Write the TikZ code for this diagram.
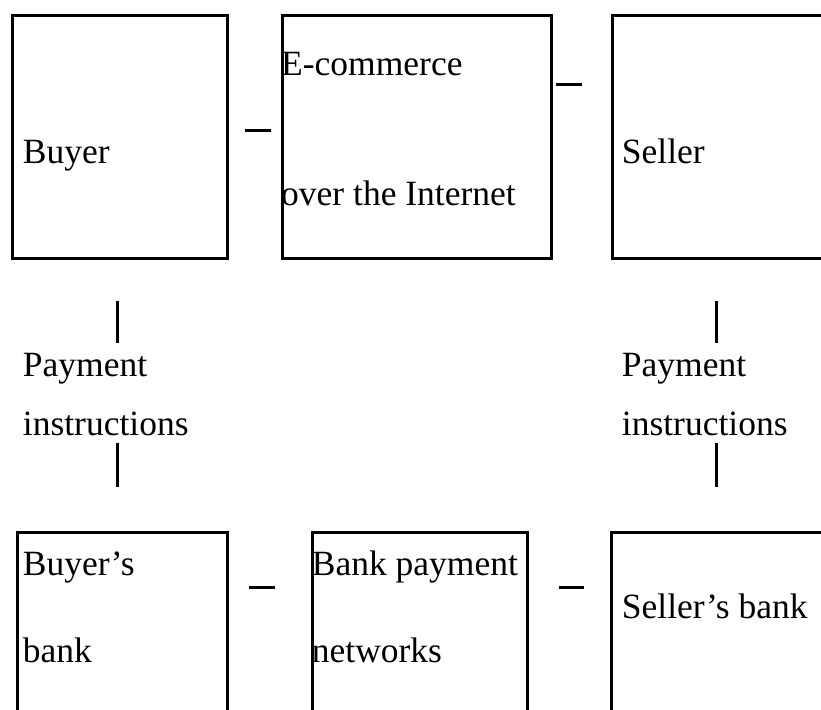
\documentclass[tikz,border=0pt]{standalone}
\usepackage{fontspec}
\setmainfont{Liberation Serif}
\begin{document}
\begin{tikzpicture}[x=1pt,y=-1pt,
  box/.style={draw,line width=3pt,rectangle,inner sep=0pt},
  lbl/.style={anchor=base west,inner sep=0pt,font=\fontsize{35.5}{40}\selectfont},
  link/.style={line width=3pt}]
\useasboundingbox (0,0) rectangle (821,709);
\clip (0,0) rectangle (821,709);
% boxes
\node[box,minimum width=215pt,minimum height=243pt,anchor=north west] (buyer) at (11,14) {};
\node[box,minimum width=269pt,minimum height=243pt,anchor=north west] (ecom) at (281,14) {};
\node[box,minimum width=219pt,minimum height=243pt,anchor=north west] (seller) at (611,14) {};
\node[box,minimum width=210pt,minimum height=219pt,anchor=north west] (bbank) at (16,531) {};
\node[box,minimum width=215pt,minimum height=219pt,anchor=north west] (net) at (311,531) {};
\node[box,minimum width=220pt,minimum height=219pt,anchor=north west] (sbank) at (610,531) {};
% texts
\node[lbl] (t1) at (22.7,163) {Buyer};
\node[lbl] (t2) at (281,75) {E-commerce};
\node[lbl] (t3) at (281,205) {over the Internet};
\node[lbl] (t4) at (621.7,163) {Seller};
\node[lbl] (t5) at (22.7,376.7) {Payment};
\node[lbl] (t6) at (22.7,435) {instructions};
\node[lbl] (t7) at (621.7,376.7) {Payment};
\node[lbl] (t8) at (621.7,435) {instructions};
\node[lbl] (t9) at (22.7,575) {Buyer’s};
\node[lbl] (t10) at (22.7,662.7) {bank};
\node[lbl] (t11) at (311.7,575) {Bank payment};
\node[lbl] (t12) at (311.7,662.7) {networks};
\node[lbl] (t13) at (621.7,618) {Seller’s bank};
% connector fragments
\coordinate (d1a) at (245,130); \coordinate (d1b) at (271,130);
\coordinate (d2a) at (556,84); \coordinate (d2b) at (582,84);
\coordinate (d3a) at (249,587); \coordinate (d3b) at (275,587);
\coordinate (d4a) at (559,587); \coordinate (d4b) at (584,587);
\coordinate (v1a) at (117,301); \coordinate (v1b) at (117,343);
\coordinate (v2a) at (117,443); \coordinate (v2b) at (117,487);
\coordinate (v3a) at (716,301); \coordinate (v3b) at (716,343);
\coordinate (v4a) at (716,443); \coordinate (v4b) at (716,487);
\draw[link] (d1a) -- (d1b);
\draw[link] (d2a) -- (d2b);
\draw[link] (d3a) -- (d3b);
\draw[link] (d4a) -- (d4b);
\draw[link] (v1a) -- (v1b);
\draw[link] (v2a) -- (v2b);
\draw[link] (v3a) -- (v3b);
\draw[link] (v4a) -- (v4b);
\end{tikzpicture}
\end{document}
